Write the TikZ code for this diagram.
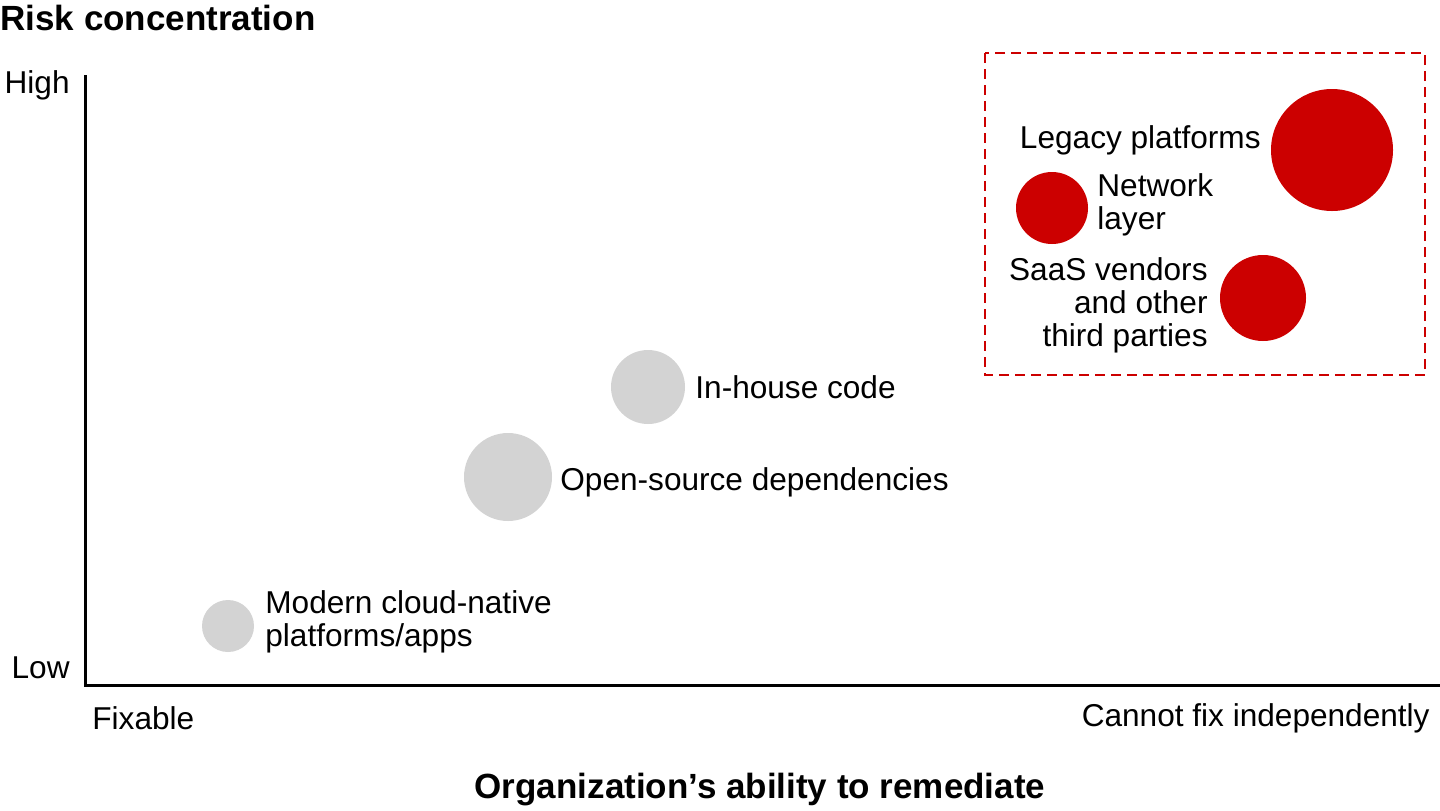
\documentclass[tikz,border=0pt]{standalone}
\usepackage{fontspec}
\setmainfont{Liberation Sans}
\definecolor{riskred}{RGB}{204,0,0}
\definecolor{fixgray}{RGB}{211,211,211}
\tikzset{
  bubble/.style={circle,draw=none,inner sep=0pt},
  fixable/.style={bubble,fill=fixgray},
  hard/.style={bubble,fill=riskred},
  lbl/.style={font=\fontsize{15.8}{16.5}\selectfont,inner sep=0pt},
  heading/.style={font=\fontsize{17.5}{18}\selectfont\bfseries,inner sep=0pt}
}
\begin{document}
\begin{tikzpicture}[x=0.5pt,y=0.5pt,yscale=-1]
  \useasboundingbox (0,0) rectangle (1440,810);
  % axes
  \coordinate (origin) at (85,685);
  \coordinate (ytop) at (85,75);
  \coordinate (xend) at (1440,685);
  \draw[line width=1.5pt] (ytop) -- (origin) -- (xend);
  % axis texts
  \node[heading,anchor=west] (ytitle) at (0,18) {Risk concentration};
  \node[lbl,anchor=east] (high) at (70,85) {High};
  \node[lbl,anchor=east] (low) at (70,668) {Low};
  \node[lbl,anchor=west] (fix) at (92,718) {Fixable};
  \node[lbl,anchor=east] (nofix) at (1430,718) {Cannot fix independently};
  \node[heading] (xtitle) at (760,790) {Organization’s ability to remediate};
  % highlight box
  \draw[riskred,line width=1pt,dash pattern=on 5pt off 3pt] (985,53) rectangle (1425,375);
  % bubbles
  \node[hard,minimum size=61pt] (legacy) at (1332,150) {};
  \node[hard,minimum size=36pt] (network) at (1052,208) {};
  \node[hard,minimum size=43pt] (saas) at (1263,298) {};
  \node[fixable,minimum size=37pt] (inhouse) at (648,387) {};
  \node[fixable,minimum size=44pt] (opensrc) at (508,477) {};
  \node[fixable,minimum size=26pt] (modern) at (228,626) {};
  % labels
  \node[lbl,anchor=east] at (1261,140) {Legacy platforms};
  \node[lbl,anchor=west,align=left] at (1097,205) {Network\\layer};
  \node[lbl,anchor=east,align=right] at (1208,305) {SaaS vendors\\and other\\third parties};
  \node[lbl,anchor=west] at (695,387) {In-house code};
  \node[lbl,anchor=west] at (560,482) {Open-source dependencies};
  \node[lbl,anchor=west,align=left] at (265,622) {Modern cloud-native\\platforms/apps};
\end{tikzpicture}
\end{document}
